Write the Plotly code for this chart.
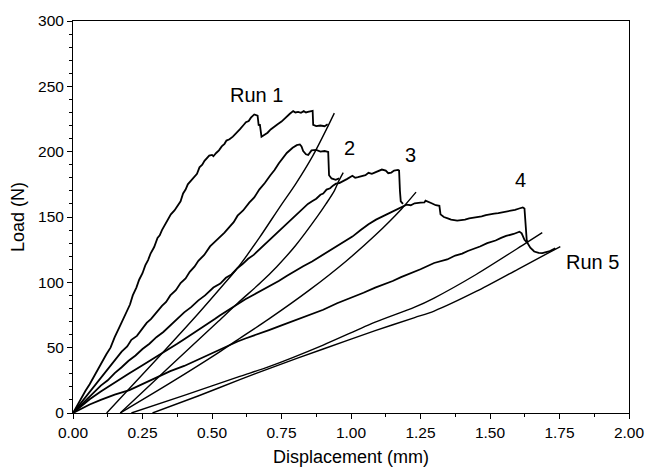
import plotly.graph_objects as go

# ---------------- data ----------------
run1_load_x = [0.000, 0.015, 0.030, 0.045, 0.060, 0.075, 0.090, 0.105, 0.120, 0.135, 0.150, 0.170, 0.191, 0.205, 0.215, 0.228, 0.238, 0.250, 0.260, 0.270, 0.279, 0.292, 0.304, 0.312, 0.320, 0.330, 0.340, 0.352, 0.365, 0.376, 0.387, 0.396, 0.405, 0.413, 0.422, 0.433, 0.446, 0.455, 0.465, 0.473, 0.481, 0.490, 0.500, 0.505, 0.515, 0.525, 0.535, 0.545, 0.552, 0.563, 0.575, 0.588, 0.600, 0.612, 0.622, 0.632, 0.640, 0.652, 0.660, 0.664, 0.668, 0.672, 0.678, 0.690, 0.700, 0.711, 0.722, 0.736, 0.750, 0.760, 0.769, 0.780, 0.792, 0.800, 0.810, 0.820, 0.830, 0.838, 0.845, 0.855, 0.862, 0.864, 0.875, 0.890, 0.905, 0.916]
run1_load_y = [0, 6, 11, 17, 22, 28, 33, 39, 45, 50, 58, 67, 77, 83, 90, 96, 102, 107, 113, 117, 122, 127, 134, 136, 140, 144, 147, 152, 155, 159, 162, 168, 171, 175, 177, 180, 183, 188, 190, 193, 195, 197, 197.5, 196.5, 199, 201, 204, 206, 208.5, 209.5, 211.5, 214, 217, 220, 222.5, 223.5, 226, 228.5, 228, 227.5, 220, 221, 211.5, 213, 214.5, 217, 219, 221, 223, 225, 227.5, 229, 231, 230, 230.5, 229.8, 231, 230, 230.5, 231, 231.3, 220.5, 219.5, 220, 219.5, 221]

run2_load_x = [0.000, 0.030, 0.060, 0.090, 0.120, 0.150, 0.175, 0.195, 0.210, 0.230, 0.245, 0.265, 0.281, 0.300, 0.320, 0.335, 0.350, 0.370, 0.387, 0.405, 0.420, 0.437, 0.451, 0.472, 0.493, 0.510, 0.530, 0.545, 0.563, 0.578, 0.592, 0.612, 0.634, 0.652, 0.670, 0.690, 0.710, 0.725, 0.740, 0.755, 0.769, 0.790, 0.805, 0.816, 0.822, 0.828, 0.838, 0.846, 0.852, 0.858, 0.875, 0.890, 0.905, 0.918, 0.921, 0.930, 0.945, 0.957]
run2_load_y = [0, 8, 16, 24, 32, 40, 47, 51, 56, 59, 63, 69, 72, 77, 82, 85, 90, 94, 99.5, 103, 108, 112, 116.5, 121, 127.5, 131, 135, 138, 142.5, 146, 151, 155, 161, 165, 171, 176, 182, 186, 191, 195, 199, 203, 205, 205.5, 204, 200.5, 198, 197.5, 199, 201, 201.3, 200, 200.5, 199.8, 182, 179.5, 178.5, 179.5]

run3_load_x = [0.000, 0.030, 0.060, 0.100, 0.125, 0.150, 0.175, 0.200, 0.225, 0.250, 0.275, 0.300, 0.325, 0.350, 0.375, 0.400, 0.425, 0.450, 0.475, 0.505, 0.530, 0.550, 0.570, 0.592, 0.610, 0.630, 0.650, 0.670, 0.690, 0.710, 0.730, 0.750, 0.775, 0.800, 0.822, 0.845, 0.860, 0.875, 0.890, 0.900, 0.912, 0.925, 0.935, 0.946, 0.958, 0.969, 0.985, 1.005, 1.015, 1.025, 1.040, 1.052, 1.063, 1.075, 1.085, 1.100, 1.111, 1.125, 1.134, 1.145, 1.155, 1.169, 1.173, 1.176, 1.179, 1.187]
run3_load_y = [0, 6.5, 13, 21, 25, 30.5, 35, 40, 44, 49, 53, 58, 62, 67, 72, 77, 81, 86, 90, 96, 99, 103.5, 106, 111, 114, 118, 121, 125, 129, 133, 137, 141, 146, 151, 155, 160, 162, 164, 167, 168, 171, 172, 174, 175.5, 176, 177.5, 179, 181.5, 180, 180.5, 181.5, 182, 183.8, 183, 184, 185, 186.3, 185.5, 183.5, 184, 185.5, 186, 185.5, 170, 162, 160]

run4_load_x = [0.000, 0.030, 0.060, 0.100, 0.150, 0.200, 0.250, 0.300, 0.325, 0.351, 0.375, 0.400, 0.425, 0.450, 0.470, 0.490, 0.510, 0.528, 0.545, 0.560, 0.575, 0.592, 0.620, 0.650, 0.680, 0.710, 0.740, 0.770, 0.800, 0.828, 0.860, 0.890, 0.920, 0.946, 0.975, 1.005, 1.035, 1.063, 1.090, 1.122, 1.150, 1.181, 1.200, 1.215, 1.229, 1.250, 1.264, 1.268, 1.275, 1.290, 1.305, 1.318, 1.322, 1.334, 1.348, 1.360, 1.382, 1.396, 1.410, 1.425, 1.441, 1.455, 1.470, 1.485, 1.500, 1.515, 1.530, 1.545, 1.558, 1.575, 1.590, 1.605, 1.618, 1.624, 1.628, 1.632, 1.635]
run4_load_y = [0, 5.5, 10.5, 16.5, 23.5, 30, 36.5, 43, 46, 49.6, 53, 56.5, 60, 63, 66, 69, 72, 74.7, 77, 79, 81, 83.5, 87, 90.5, 94, 97.3, 101, 105, 109, 112.3, 116, 120, 124, 127.4, 131, 135, 140, 144.5, 148, 151.2, 154.5, 157.5, 159.5, 159, 160.5, 161, 161.2, 162.5, 162, 160.5, 159, 158.5, 152, 150, 149, 148, 147.2, 147.5, 148, 149, 149.5, 150, 150.5, 151.5, 151.8, 152.5, 153, 153.5, 154.3, 155, 155.5, 156.5, 157.3, 156.5, 142, 132.5, 130.5]

run5_load_x = [0.000, 0.030, 0.060, 0.100, 0.150, 0.203, 0.250, 0.300, 0.350, 0.400, 0.450, 0.500, 0.550, 0.592, 0.620, 0.650, 0.680, 0.705, 0.750, 0.800, 0.850, 0.900, 0.950, 1.000, 1.045, 1.087, 1.120, 1.150, 1.180, 1.205, 1.250, 1.299, 1.320, 1.346, 1.375, 1.400, 1.420, 1.441, 1.464, 1.490, 1.520, 1.540, 1.558, 1.585, 1.606, 1.614, 1.624, 1.635, 1.645, 1.659, 1.675, 1.688, 1.700, 1.712, 1.735]
run5_load_y = [0, 3.5, 6.5, 10, 14, 17.5, 22, 27, 32, 36, 41, 46, 51, 54.7, 57, 59.5, 62, 63.5, 67, 71, 75, 79, 84, 88, 92, 96, 98.5, 101, 104, 106, 110, 114.8, 116, 117.5, 120.5, 122, 124, 125.5, 127.4, 130, 132, 134, 135.5, 137, 138.7, 137.5, 132.5, 130, 126.5, 123.6, 122.5, 122.4, 123, 123.6, 126.1]

run1_unload_x = [0.121, 0.300, 0.450, 0.540, 0.592, 0.670, 0.745, 0.800, 0.863, 0.916, 0.940]
run1_unload_y = [0, 41, 76, 98, 111, 134, 158, 175, 197, 219, 229.5]

run2_unload_x = [0.170, 0.350, 0.522, 0.592, 0.676, 0.733, 0.800, 0.881, 0.910, 0.940, 0.957, 0.972]
run2_unload_y = [0, 36, 70, 84, 100, 112, 128, 151, 160, 170, 178, 184]

run3_unload_x = [0.170, 0.350, 0.522, 0.592, 0.705, 0.850, 0.981, 1.087, 1.181, 1.234]
run3_unload_y = [0, 23, 46, 56, 72, 94, 116, 136, 156, 169]

run4_unload_x = [0.210, 0.400, 0.600, 0.705, 0.900, 1.087, 1.229, 1.299, 1.450, 1.629, 1.688]
run4_unload_y = [0, 13.5, 28, 35.5, 52, 69.5, 81, 88, 106, 130, 138]

run5_unload_x = [0.286, 0.450, 0.600, 0.705, 0.900, 1.087, 1.229, 1.299, 1.450, 1.600, 1.753]
run5_unload_y = [0, 13, 25.5, 34, 49, 63, 73, 78, 93, 110, 127.4]

label_text = ["Run 1", "2", "3", "4", "Run 5"]
label_x = [0.659, 0.994, 1.214, 1.608, 1.867]
label_y = [243.4, 202.6, 197.6, 178.0, 115.2]

x_tick_vals = [0, 0.25, 0.5, 0.75, 1.0, 1.25, 1.5, 1.75, 2.0]
x_tick_text = ["0.00", "0.25", "0.50", "0.75", "1.00", "1.25", "1.50", "1.75", "2.00"]
y_tick_vals = [0, 50, 100, 150, 200, 250, 300]

# ---------------- figure ----------------
FONT = "Liberation Sans, Arial, Helvetica, sans-serif"
fig = go.Figure()

loads = [(run1_load_x, run1_load_y), (run2_load_x, run2_load_y), (run3_load_x, run3_load_y),
         (run4_load_x, run4_load_y), (run5_load_x, run5_load_y)]
unloads = [(run1_unload_x, run1_unload_y), (run2_unload_x, run2_unload_y), (run3_unload_x, run3_unload_y),
           (run4_unload_x, run4_unload_y), (run5_unload_x, run5_unload_y)]

for i, (xs, ys) in enumerate(loads):
    fig.add_trace(go.Scatter(x=xs, y=ys, mode="lines", line=dict(color="black", width=1.8),
                             name=f"Run {i+1} loading", showlegend=False))
for i, (xs, ys) in enumerate(unloads):
    fig.add_trace(go.Scatter(x=xs, y=ys, mode="lines",
                             line=dict(color="black", width=1.4, shape="spline", smoothing=0.8),
                             name=f"Run {i+1} unloading", showlegend=False))

for t, x, y in zip(label_text, label_x, label_y):
    fig.add_annotation(x=x, y=y, text=t, showarrow=False,
                       font=dict(family=FONT, size=20, color="black"))

fig.update_layout(
    width=656, height=476,
    margin=dict(l=73, r=18, t=14, b=63),
    paper_bgcolor="white", plot_bgcolor="white",
    font=dict(family=FONT, color="black"),
)
fig.update_xaxes(
    range=[0, 2], tickvals=x_tick_vals, ticktext=x_tick_text,
    ticks="outside", ticklen=5, tickwidth=1, tickcolor="black",
    minor=dict(dtick=0.125, tick0=0, ticks="outside", ticklen=3, tickcolor="black"),
    showline=True, linecolor="black", linewidth=1, mirror=True,
    showgrid=False, zeroline=False,
    tickfont=dict(family=FONT, size=15.5, color="black"),
    title=dict(text="Displacement (mm)", font=dict(family=FONT, size=18, color="black"), standoff=10),
)
fig.update_yaxes(
    range=[0, 300], tickvals=y_tick_vals,
    ticks="outside", ticklen=5, tickwidth=1, tickcolor="black",
    minor=dict(dtick=10, tick0=0, ticks="outside", ticklen=3, tickcolor="black"),
    showline=True, linecolor="black", linewidth=1, mirror=True,
    showgrid=False, zeroline=False,
    tickfont=dict(family=FONT, size=15.5, color="black"),
    title=dict(text="Load (N)", font=dict(family=FONT, size=18, color="black"), standoff=8),
)

fig.write_html("out.html")
